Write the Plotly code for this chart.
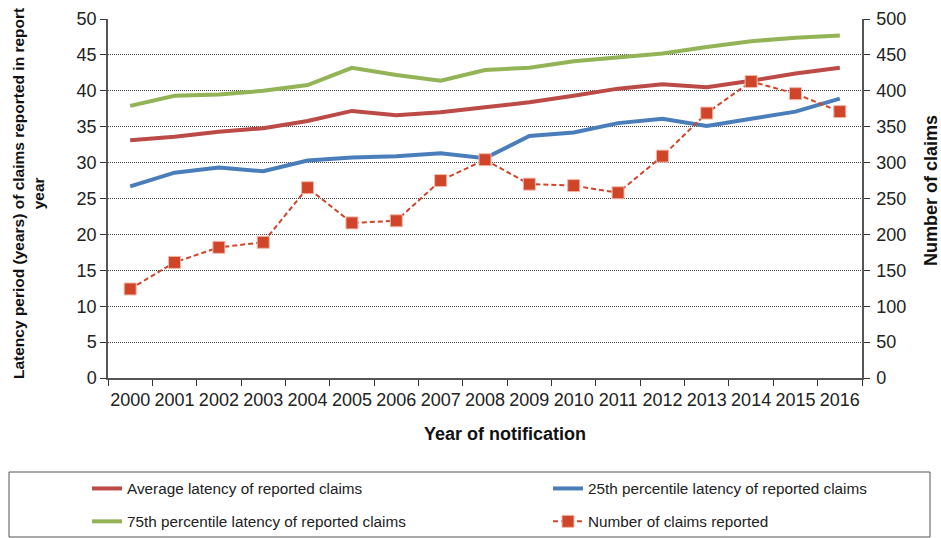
import plotly.graph_objects as go

# Notification years and the four series
years = [str(y) for y in range(2000, 2017)]
avg_latency = [33.1, 33.6, 34.3, 34.8, 35.8, 37.2, 36.6, 37.0, 37.7, 38.4, 39.3, 40.3, 40.9, 40.5, 41.4, 42.4, 43.2]
p25_latency = [26.7, 28.6, 29.3, 28.8, 30.3, 30.7, 30.9, 31.3, 30.6, 33.7, 34.2, 35.5, 36.1, 35.1, 36.1, 37.1, 38.9]
p75_latency = [37.9, 39.3, 39.5, 40.0, 40.8, 43.2, 42.2, 41.4, 42.9, 43.2, 44.1, 44.6, 45.2, 46.1, 46.9, 47.4, 47.7]
claims_reported = [124, 161, 182, 189, 265, 216, 219, 275, 304, 270, 268, 258, 309, 369, 413, 396, 371]

left_ticks = list(range(0, 51, 5))
right_ticks = list(range(0, 501, 50))

FONT = "Liberation Sans, Arial, sans-serif"
W, H = 941, 538
ML, MR, MT, MB = 108, 79, 19, 160
PW, PH = W - ML - MR, H - MT - MB


def px_x(p):
    return (p - ML) / PW


def px_y(p):
    return (H - MB - p) / PH


fig = go.Figure()
fig.add_trace(go.Scatter(x=years, y=avg_latency, mode="lines", name="Average latency of reported claims",
                         line=dict(color="#BC4A47", width=4), legend="legend"))
fig.add_trace(go.Scatter(x=years, y=p75_latency, mode="lines", name="75th percentile latency of reported claims",
                         line=dict(color="#92B457", width=4), legend="legend"))
fig.add_trace(go.Scatter(x=years, y=p25_latency, mode="lines", name="25th percentile latency of reported claims",
                         line=dict(color="#4A7EBB", width=4), legend="legend2"))
fig.add_trace(go.Scatter(x=years, y=claims_reported, mode="lines+markers", name="Number of claims reported",
                         yaxis="y2", line=dict(color="#D0452A", width=2, dash="5px,3px"),
                         marker=dict(symbol="square", size=12, color="#D0452A",
                                     line=dict(color="#F2B8A8", width=1)),
                         legend="legend2"))

axis_font = dict(family=FONT, size=18, color="#222")
legend_font = dict(family=FONT, size=15.3, color="#222")
fig.update_layout(
    width=W, height=H,
    margin=dict(l=ML, r=MR, t=MT, b=MB, autoexpand=False),
    paper_bgcolor="white", plot_bgcolor="white",
    font=dict(family=FONT, color="#222"),
    xaxis=dict(type="category", range=[-0.5, 16.5], showgrid=False, showline=True,
               linecolor="#555", linewidth=1.5, ticks="outside", tickson="boundaries",
               ticklen=6, tickcolor="#333", tickfont=axis_font, tickangle=0,
               ticklabelstandoff=5, fixedrange=True),
    yaxis=dict(range=[0, 50], tickvals=left_ticks, showline=True, linecolor="#555", linewidth=1.5,
               ticks="outside", ticklen=6, tickcolor="#333", tickfont=axis_font,
               showgrid=True, gridcolor="#444", griddash="1px,1px", gridwidth=1,
               zeroline=False),
    yaxis2=dict(range=[0, 500], tickvals=right_ticks, overlaying="y", side="right", showline=True,
                linecolor="#555", linewidth=1.5, ticks="outside", ticklen=6, tickcolor="#333",
                tickfont=axis_font, ticklabelstandoff=3, showgrid=False, zeroline=False),
    legend=dict(orientation="v", x=px_x(87), y=px_y(472), xanchor="left", yanchor="top",
                font=legend_font, bgcolor="rgba(0,0,0,0)",
                tracegroupgap=10, traceorder="grouped"),
    legend2=dict(orientation="v", x=px_x(548), y=px_y(472), xanchor="left", yanchor="top",
                 font=legend_font, bgcolor="rgba(0,0,0,0)",
                 tracegroupgap=10, traceorder="grouped"),
    showlegend=True,
)

# Each legend entry in its own group so the rows are spaced apart
for i, tr in enumerate(fig.data):
    tr.legendgroup = f"g{i}"

# Box framing both legend columns
fig.add_shape(type="rect", xref="paper", yref="paper",
              x0=px_x(9), x1=px_x(930), y0=px_y(537), y1=px_y(472),
              line=dict(color="#555", width=1), fillcolor="rgba(0,0,0,0)", layer="below")

title_font = dict(family=FONT, size=18, color="#111", weight="bold")
fig.add_annotation(text="Year of notification", xref="paper", yref="paper",
                   x=px_x(505), y=px_y(434), xanchor="center", yanchor="middle",
                   showarrow=False, font=title_font)
fig.add_annotation(text="Latency period (years) of claims reported in report<br>year",
                   xref="paper", yref="paper", x=px_x(28), y=px_y(194), textangle=-90,
                   xanchor="center", yanchor="middle", showarrow=False,
                   font=dict(family=FONT, size=15.5, color="#111", weight="bold"))
fig.add_annotation(text="Number of claims", xref="paper", yref="paper",
                   x=px_x(931), y=px_y(191), textangle=-90, xanchor="center", yanchor="middle",
                   showarrow=False, font=title_font)

fig.write_html("out.html")
